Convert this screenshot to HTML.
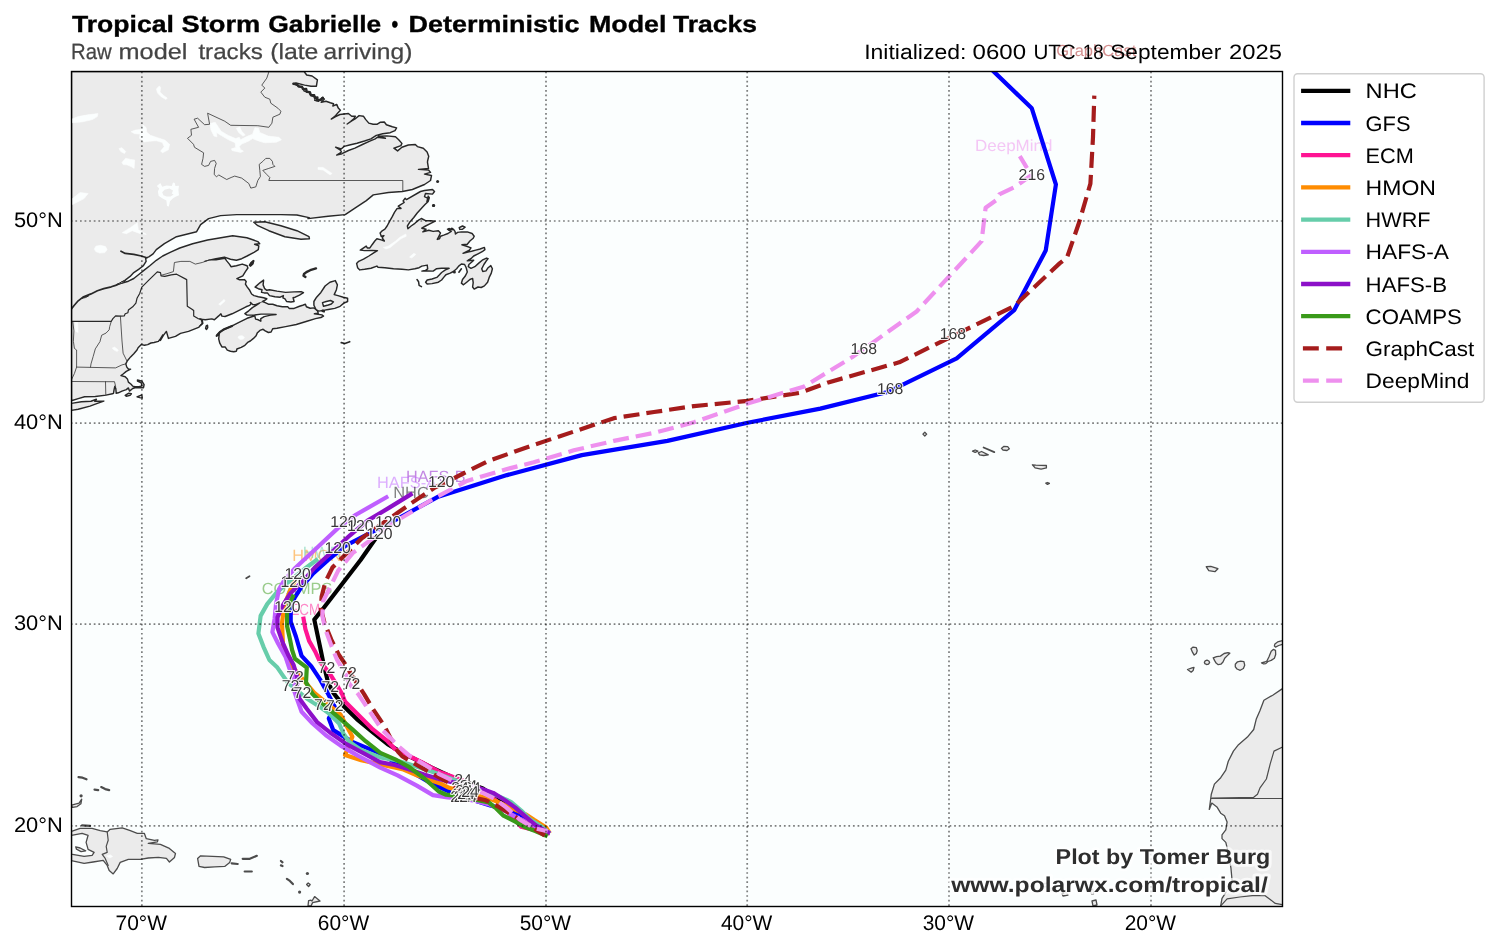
<!DOCTYPE html>
<html><head><meta charset="utf-8"><title>Tropical Storm Gabrielle - Deterministic Model Tracks</title>
<style>html,body{margin:0;padding:0;background:#fff;}body{width:1496px;height:946px;position:relative;overflow:hidden;font-family:"Liberation Sans",sans-serif;}</style>
</head><body>
<svg width="1496" height="946" viewBox="0 0 1496 946" style="position:absolute;left:0;top:0;will-change:transform;opacity:0.999" text-rendering="geometricPrecision">
<defs><clipPath id="fr"><rect x="71.5" y="71.5" width="1211.0" height="835.0"/></clipPath></defs>
<rect x="71.5" y="71.5" width="1211.0" height="835.0" fill="#fbfefe"/>
<g clip-path="url(#fr)">
<path d="M71.5,71.5 L304.1,71.5 L306.7,75.0 L312.1,76.0 L317.4,79.8 L316.4,86.2 L311.0,86.2 L304.6,85.1 L296.0,83.0 L293.4,83.7 L297.6,85.7 L302.5,87.3 L304.1,91.0 L308.9,92.1 L311.0,95.8 L315.3,96.9 L314.8,100.4 L318.5,101.2 L322.2,97.4 L324.4,99.0 L321.2,102.2 L326.0,101.2 L330.3,102.8 L333.5,103.8 L332.9,106.0 L336.7,104.4 L338.3,108.1 L340.4,110.3 L337.8,112.9 L335.1,116.2 L331.3,119.0 L335.6,116.7 L339.9,114.5 L344.2,114.0 L348.4,113.5 L351.7,116.2 L355.4,116.2 L353.8,118.8 L350.6,121.5 L347.2,124.0 L351.7,121.0 L355.9,118.3 L359.1,115.6 L363.4,116.2 L365.6,119.4 L368.8,123.1 L373.1,124.2 L377.3,124.2 L380.5,122.2 L384.3,122.0 L386.4,124.7 L392.3,126.8 L396.6,127.9 L395.0,130.6 L390.2,132.7 L382.7,133.8 L376.3,135.4 L370.9,138.9 L364.5,141.0 L357.0,143.2 L349.5,145.0 L344.2,146.4 L341.2,149.0 L335.6,147.2 L340.4,150.1 L341.5,152.0 L336.7,155.0 L342.0,153.7 L348.4,150.5 L354.9,148.1 L362.4,144.5 L369.8,141.1 L375.2,138.9 L377.3,137.2 L385.4,138.3 L378.4,136.2 L386.9,135.9 L395.5,136.8 L398.7,139.7 L401.9,143.4 L400.9,145.6 L393.9,148.2 L397.6,150.9 L401.9,147.2 L408.3,145.0 L415.3,144.5 L417.4,146.6 L423.3,148.2 L427.1,152.0 L428.7,156.3 L427.6,161.0 L427.5,162.4 L428.5,168.4 L418.5,169.4 L428.5,170.0 L430.5,172.4 L424.5,174.1 L431.5,175.5 L430.5,180.5 L424.5,184.5 L412.4,189.5 L402.4,191.5 L388.4,192.5 L373.3,194.9 L366.3,200.6 L354.2,208.6 L345.2,214.6 L328.1,216.2 L308.0,218.6 L309.0,217.6 L296.9,215.0 L280.9,214.6 L260.8,214.6 L236.7,214.6 L220.6,215.6 L208.6,218.6 L200.6,224.7 L196.6,231.7 L176.5,236.7 L164.4,243.7 L156.3,249.6 L153.1,253.9 L148.8,256.9 L145.6,258.2 L146.1,261.4 L143.4,265.7 L138.6,269.4 L133.8,272.6 L130.1,276.4 L125.2,280.1 L119.9,283.3 L117.2,284.4 L123.1,282.8 L128.4,281.2 L133.8,278.5 L139.1,274.2 L144.5,269.9 L149.8,265.7 L156.3,260.3 L162.7,256.0 L171.2,251.8 L179.8,248.0 L192.6,243.7 L207.6,240.0 L232.7,235.7 L246.8,237.7 L253.5,240.0 L257.8,241.6 L259.7,243.7 L254.6,244.3 L258.8,245.9 L258.3,249.6 L254.0,252.3 L247.1,256.0 L241.7,258.7 L236.4,260.3 L230.5,259.2 L224.4,257.1 L216.0,258.8 L210.2,259.9 L216.0,259.7 L224.8,258.2 L226.7,260.9 L229.4,264.1 L231.0,266.7 L236.4,265.7 L242.2,264.1 L247.1,265.7 L247.9,268.0 L245.4,271.6 L242.8,275.8 L236.9,278.7 L239.6,279.8 L244.4,279.6 L246.2,281.5 L245.4,284.1 L247.3,287.1 L249.7,290.3 L251.6,294.0 L254.0,295.6 L258.3,296.7 L263.6,297.8 L266.8,298.8 L264.7,300.4 L262.6,301.5 L265.2,302.6 L268.4,304.2 L272.7,304.2 L277.0,305.8 L282.4,306.8 L287.7,306.8 L289.3,308.4 L294.1,308.4 L299.5,306.3 L302.7,305.2 L305.4,304.2 L306.4,306.8 L310.2,308.2 L313.9,307.9 L316.0,309.5 L317.6,311.1 L318.2,313.3 L314.4,313.8 L321.9,314.9 L323.5,316.1 L320.9,317.5 L315.5,318.6 L306.9,321.3 L296.3,324.5 L285.6,326.6 L277.0,328.2 L272.7,328.8 L271.1,332.0 L268.4,332.5 L265.2,330.9 L263.1,329.3 L259.9,330.4 L257.2,333.1 L256.1,335.7 L253.5,338.4 L250.3,341.0 L248.1,342.1 L244.9,345.3 L241.2,347.4 L236.9,349.0 L236.4,351.2 L233.7,351.7 L230.5,351.2 L227.3,350.1 L225.1,346.9 L221.9,346.9 L219.8,343.2 L218.7,338.9 L219.2,334.4 L216.4,336.2 L219.2,332.7 L223.0,330.0 L232.1,325.8 L238.5,322.6 L247.1,318.3 L254.8,315.8 L255.6,319.1 L258.3,319.8 L260.8,321.2 L260.8,318.6 L264.2,316.6 L270.6,315.1 L276.1,314.5 L268.4,314.1 L261.0,314.1 L254.6,315.0 L247.1,315.1 L244.9,313.7 L248.7,310.8 L252.4,307.6 L256.1,305.4 L259.4,303.1 L255.6,304.7 L252.6,304.5 L250.3,302.4 L251.1,303.6 L249.7,305.4 L246.0,306.8 L239.6,310.1 L232.1,313.8 L225.1,316.5 L221.9,316.1 L220.9,313.8 L218.7,315.9 L214.4,319.7 L211.8,318.9 L205.3,319.7 L200.0,319.1 L202.2,320.0 L202.8,323.4 L200.3,325.6 L198.6,327.4 L188.5,331.4 L180.5,333.4 L175.5,336.4 L168.4,338.4 L166.4,331.4 L163.4,335.4 L160.4,340.4 L162.7,335.0 L160.5,338.7 L158.4,341.4 L154.1,342.5 L150.9,343.0 L147.7,344.6 L144.5,345.2 L141.3,344.6 L138.1,347.8 L137.0,350.0 L133.8,353.7 L130.6,356.9 L127.4,360.7 L125.8,363.9 L126.8,367.1 L128.4,369.0 L130.6,369.2 L126.3,371.4 L123.1,374.0 L121.0,375.6 L125.2,376.7 L127.4,378.9 L128.4,382.1 L131.1,384.2 L132.7,386.1 L134.9,386.7 L139.1,386.7 L141.9,385.9 L141.3,382.9 L137.5,381.1 L137.5,380.0 L141.9,381.1 L144.1,384.7 L143.5,387.7 L139.1,387.7 L134.9,387.7 L132.7,388.5 L129.5,391.1 L128.4,387.9 L126.3,389.6 L122.0,391.1 L118.3,392.8 L116.2,393.3 L115.8,388.5 L114.8,386.3 L114.1,389.6 L113.5,393.3 L112.4,393.8 L106.0,395.1 L95.3,396.5 L84.6,396.8 L78.2,398.6 L71.4,400.8 L71.5,400.8Z" fill="#ebebeb" stroke="#282828" stroke-width="1.45" stroke-linejoin="round" />
<path d="M432.5,189.5 L434.5,191.5 L432.5,194.1 L425.5,193.5 L424.5,196.6 L428.5,198.6 L426.9,201.6 L428.2,196.1 L429.3,197.7 L428.2,201.4 L425.0,204.6 L421.3,208.4 L417.0,213.2 L413.8,217.5 L410.1,221.7 L407.4,226.0 L407.9,228.7 L411.1,226.0 L414.9,223.3 L418.6,220.1 L421.3,218.5 L425.6,220.7 L430.9,220.7 L435.2,221.2 L429.8,223.9 L425.6,226.0 L421.8,228.2 L426.1,229.2 L422.9,231.9 L428.8,230.3 L433.1,231.4 L438.4,230.8 L440.5,233.0 L438.9,236.2 L437.3,239.4 L439.5,238.8 L440.5,236.2 L443.7,235.1 L448.0,233.5 L451.2,231.4 L447.5,229.2 L453.4,229.2 L455.0,231.4 L455.5,234.0 L457.6,232.4 L461.4,231.9 L467.3,231.9 L472.1,233.5 L474.2,236.2 L473.2,238.3 L469.9,241.0 L467.3,244.2 L461.9,244.7 L466.7,246.3 L471.0,247.9 L469.4,250.1 L463.0,253.3 L468.9,251.7 L471.6,251.2 L475.8,250.1 L480.1,249.0 L484.4,247.4 L484.9,249.6 L482.2,251.7 L478.0,253.8 L473.7,256.0 L471.6,258.1 L467.3,260.8 L473.7,260.2 L472.1,261.8 L468.9,264.5 L468.3,266.7 L471.0,268.3 L474.8,266.7 L478.5,263.4 L482.2,260.2 L486.5,258.1 L488.1,258.6 L486.0,261.3 L483.9,264.5 L481.7,268.8 L482.8,271.5 L486.0,270.9 L488.1,267.7 L490.8,265.6 L492.4,268.8 L491.3,273.1 L489.2,277.4 L487.6,282.2 L484.4,285.9 L481.2,287.5 L478.0,287.0 L474.2,289.1 L472.6,287.0 L473.2,282.7 L472.6,278.4 L469.9,279.5 L466.7,282.2 L463.5,284.8 L461.4,283.2 L462.5,279.5 L465.1,276.3 L467.3,272.0 L466.2,267.7 L464.6,264.5 L461.4,264.0 L458.7,266.1 L456.6,268.8 L453.4,271.5 L450.2,273.1 L445.9,274.7 L443.7,277.4 L441.6,280.0 L438.4,282.2 L432.0,283.6 L427.2,284.0 L425.6,282.2 L427.2,280.0 L432.0,279.0 L436.8,277.4 L439.5,274.7 L441.6,272.5 L445.4,269.9 L449.1,268.3 L441.6,268.3 L436.3,268.8 L433.1,271.1 L427.7,270.9 L421.8,271.1 L425.6,270.4 L427.7,268.8 L427.2,265.1 L421.8,266.1 L419.1,267.7 L414.9,268.8 L408.4,269.9 L402.0,269.3 L393.5,268.8 L384.9,267.7 L378.0,267.2 L376.9,266.1 L371.0,268.3 L364.6,269.3 L359.8,269.9 L357.6,267.7 L356.6,263.4 L358.7,261.3 L363.5,259.2 L368.9,256.0 L373.7,252.8 L377.4,250.6 L372.1,250.4 L364.6,250.6 L360.3,250.1 L366.2,246.1 L367.3,247.9 L369.9,247.9 L372.1,244.7 L374.8,241.0 L376.9,238.8 L381.2,239.9 L384.4,241.0 L382.2,237.8 L383.9,235.6 L381.2,236.2 L380.1,233.0 L382.2,230.8 L384.9,229.2 L387.1,226.0 L389.7,221.2 L392.4,216.4 L394.6,212.1 L397.2,208.4 L401.0,208.4 L398.3,206.2 L401.5,204.1 L404.2,202.5 L403.1,200.9 L405.2,198.2 L406.4,199.6 L420.5,191.5 L424.5,190.5Z" fill="#ebebeb" stroke="#282828" stroke-width="1.45" stroke-linejoin="round" />
<path d="M253.8,222.2 L264.8,221.7 L280.9,225.7 L296.9,230.7 L309.0,236.7 L309.4,238.7 L301.0,239.3 L284.9,236.7 L268.8,230.7 L257.8,225.7Z" fill="#ebebeb" stroke="#282828" stroke-width="1.45" stroke-linejoin="round" />
<path d="M255.1,287.1 L259.9,282.8 L263.6,280.1 L263.1,284.9 L264.7,288.7 L266.8,290.3 L269.5,289.7 L277.0,291.1 L285.6,292.4 L294.1,291.9 L301.1,291.6 L303.5,292.6 L299.5,295.1 L295.2,297.2 L293.1,297.8 L294.1,301.5 L290.9,302.0 L286.6,301.5 L285.0,298.8 L282.9,297.8 L283.4,295.6 L280.2,297.2 L274.9,296.7 L269.5,295.6 L267.4,292.9 L264.2,292.9 L261.5,292.4 L262.0,289.7 L258.3,288.7Z" fill="#ebebeb" stroke="#282828" stroke-width="1.45" stroke-linejoin="round" />
<path d="M316.0,309.5 L313.9,305.2 L313.9,301.5 L316.6,297.2 L320.9,292.4 L325.1,286.0 L329.9,282.2 L335.3,280.6 L337.4,284.9 L336.4,289.7 L334.2,294.6 L338.0,295.6 L343.3,297.2 L347.6,298.3 L347.6,301.5 L343.9,303.1 L340.1,306.3 L334.8,308.4 L328.3,309.5 L324.6,310.1 L324.1,311.9 L321.9,310.6 L318.7,311.1Z" fill="#ebebeb" stroke="#282828" stroke-width="1.45" stroke-linejoin="round" />
<path d="M71.4,403.4 L81.4,401.8 L91.0,401.3 L96.4,399.2 L94.8,401.3 L103.8,401.1 L97.4,403.4 L90.0,406.1 L78.2,409.3 L71.4,410.4Z" fill="#ebebeb" stroke="#282828" stroke-width="1.45" stroke-linejoin="round" />
<path d="M125.2,395.4 L128.4,393.3 L131.4,393.8 L130.1,395.4 L126.3,396.2Z" fill="#ebebeb" stroke="#282828" stroke-width="1.45" stroke-linejoin="round" />
<path d="M137.0,396.8 L141.8,394.9 L142.3,398.1 L139.7,397.6Z" fill="#ebebeb" stroke="#282828" stroke-width="1.45" stroke-linejoin="round" />
<path d="M205.6,328.4 L206.2,325.8 L207.5,325.2 L207.7,327.6 L206.6,329.5Z" fill="#ebebeb" stroke="#282828" stroke-width="1.45" stroke-linejoin="round" />
<path d="M459.2,227.6 L462.5,226.0 L465.1,227.1 L462.5,229.2 L459.8,229.4Z" fill="#ebebeb" stroke="#282828" stroke-width="1.45" stroke-linejoin="round" />
<path d="M249.7,265.2 L251.3,262.7 L253.5,260.9 L252.6,263.7 L250.5,265.7Z" fill="#ebebeb" stroke="#282828" stroke-width="1.45" stroke-linejoin="round" />
<path d="M71.5,831.3 L80.1,828.3 L92.1,828.3 L100.2,830.7 L107.2,831.9 L110.2,829.3 L122.2,827.9 L130.3,830.7 L137.3,833.3 L144.3,833.3 L146.3,838.7 L154.4,840.3 L158.0,839.9 L157.4,841.9 L148.3,843.4 L160.4,844.4 L169.4,848.4 L175.5,853.4 L174.5,857.4 L169.4,862.0 L166.4,858.4 L158.4,857.4 L148.3,858.0 L140.3,859.4 L128.3,859.4 L120.2,862.4 L117.2,868.5 L113.2,873.9 L109.2,870.5 L107.2,865.4 L103.2,860.4 L93.1,862.0 L84.1,863.4 L72.5,860.8 L71.5,860.8Z" fill="#ebebeb" stroke="#4c4c4c" stroke-width="1.3" stroke-linejoin="round" />
<path d="M197.6,858.4 L200.6,855.8 L212.6,856.4 L223.7,856.8 L230.7,859.4 L229.7,862.4 L224.7,866.4 L214.6,866.8 L204.6,867.5 L199.0,866.4Z" fill="#ebebeb" stroke="#4c4c4c" stroke-width="1.3" stroke-linejoin="round" />
<path d="M306.6,884.5 L308.2,882.9 L310.2,884.5 L308.6,886.5Z" fill="#ebebeb" stroke="#4c4c4c" stroke-width="1.3" stroke-linejoin="round" />
<path d="M308.0,906.0 L308.6,900.6 L311.0,900.2 L312.0,901.0 L314.6,896.6 L320.0,901.0 L312.6,902.6 L311.0,906.0Z" fill="#ebebeb" stroke="#4c4c4c" stroke-width="1.3" stroke-linejoin="round" />
<path d="M71.5,805.2 L79.1,803.2 L81.7,799.2 L80.9,803.8 L77.1,806.6 L72.5,807.4Z" fill="#ebebeb" stroke="#4c4c4c" stroke-width="1.3" stroke-linejoin="round" />
<path d="M1206.2,566.7 L1210.8,566.3 L1217.9,568.7 L1214.9,571.7 L1208.8,570.7Z" fill="#ebebeb" stroke="#4c4c4c" stroke-width="1.3" stroke-linejoin="round" />
<path d="M1045.8,483.2 L1047.5,482.5 L1049.4,483.4 L1047.5,484.4Z" fill="#ebebeb" stroke="#4c4c4c" stroke-width="1.3" stroke-linejoin="round" />
<path d="M922.9,434.1 L924.8,432.2 L926.7,434.1 L924.8,436.0Z" fill="#ebebeb" stroke="#4c4c4c" stroke-width="1.3" stroke-linejoin="round" />
<path d="M972.5,451.2 L975.2,450.0 L977.9,451.2 L975.2,452.4Z" fill="#ebebeb" stroke="#4c4c4c" stroke-width="1.3" stroke-linejoin="round" />
<path d="M978.3,452.8 L981.6,451.5 L988.3,454.8 L983.6,455.5 L979.6,454.8Z" fill="#ebebeb" stroke="#4c4c4c" stroke-width="1.3" stroke-linejoin="round" />
<path d="M1001.4,448.4 L1003.7,446.4 L1007.7,446.7 L1009.4,448.8 L1007.0,450.5 L1003.0,450.0Z" fill="#ebebeb" stroke="#4c4c4c" stroke-width="1.3" stroke-linejoin="round" />
<path d="M1032.4,464.8 L1035.8,465.2 L1046.4,465.5 L1046.4,467.9 L1041.1,469.1 L1035.1,467.9Z" fill="#ebebeb" stroke="#4c4c4c" stroke-width="1.3" stroke-linejoin="round" />
<path d="M1191.0,648.7 L1193.1,647.1 L1196.3,647.6 L1197.2,650.8 L1196.3,653.5 L1194.2,655.1 L1192.6,652.4Z" fill="#ebebeb" stroke="#4c4c4c" stroke-width="1.3" stroke-linejoin="round" />
<path d="M1187.5,669.5 L1192.0,667.9 L1194.0,667.4 L1193.1,670.6 L1191.2,672.2Z" fill="#ebebeb" stroke="#4c4c4c" stroke-width="1.3" stroke-linejoin="round" />
<path d="M1204.4,662.4 L1205.2,660.8 L1207.0,660.2 L1208.9,661.0 L1209.6,662.6 L1208.5,664.2 L1206.5,664.5 L1204.9,663.7Z" fill="#ebebeb" stroke="#4c4c4c" stroke-width="1.3" stroke-linejoin="round" />
<path d="M1213.2,657.8 L1216.6,656.7 L1220.4,656.1 L1224.1,653.5 L1227.9,652.6 L1229.8,653.2 L1227.3,655.6 L1224.7,658.3 L1223.0,662.0 L1220.9,664.2 L1218.2,664.7 L1216.1,663.1 L1214.5,660.4Z" fill="#ebebeb" stroke="#4c4c4c" stroke-width="1.3" stroke-linejoin="round" />
<path d="M1235.3,664.2 L1237.5,661.8 L1240.7,661.2 L1243.9,661.7 L1244.7,665.2 L1243.4,668.5 L1240.2,670.3 L1237.0,669.0 L1235.3,666.8Z" fill="#ebebeb" stroke="#4c4c4c" stroke-width="1.3" stroke-linejoin="round" />
<path d="M1261.5,662.8 L1264.8,662.0 L1266.9,661.0 L1269.0,656.7 L1271.2,651.3 L1273.3,649.4 L1275.5,650.3 L1275.7,654.5 L1274.4,658.3 L1271.2,660.4 L1268.0,661.5 L1265.8,663.6 L1263.7,663.9Z" fill="#ebebeb" stroke="#4c4c4c" stroke-width="1.3" stroke-linejoin="round" />
<path d="M1274.9,643.9 L1277.6,641.9 L1282.4,640.6 L1284.0,640.6 L1284.0,644.4 L1282.4,644.4 L1278.7,645.5 L1275.5,647.1 L1274.4,646.0Z" fill="#ebebeb" stroke="#4c4c4c" stroke-width="1.3" stroke-linejoin="round" />
<path d="M1062.0,893.5 L1066.0,892.5 L1068.0,895.0 L1063.0,896.0Z" fill="#ebebeb" stroke="#4c4c4c" stroke-width="1.3" stroke-linejoin="round" />
<path d="M1091.0,890.0 L1093.0,889.5 L1093.5,894.0 L1091.5,894.0Z" fill="#ebebeb" stroke="#4c4c4c" stroke-width="1.3" stroke-linejoin="round" />
<path d="M1092.0,901.0 L1096.0,900.0 L1097.0,905.0 L1093.0,906.0Z" fill="#ebebeb" stroke="#4c4c4c" stroke-width="1.3" stroke-linejoin="round" />
<path d="M1043.0,884.0 L1048.0,883.0 L1049.0,886.0 L1044.0,887.0Z" fill="#ebebeb" stroke="#4c4c4c" stroke-width="1.3" stroke-linejoin="round" />
<path d="M1050.0,888.5 L1053.0,888.0 L1053.0,890.5 L1050.5,890.5Z" fill="#ebebeb" stroke="#4c4c4c" stroke-width="1.3" stroke-linejoin="round" />
<path d="M1285.5,688.9 L1282.1,688.9 L1272.7,695.2 L1263.9,700.3 L1260.0,710.5 L1256.2,719.3 L1253.7,729.5 L1247.4,737.1 L1238.5,744.7 L1233.4,751.1 L1228.3,761.2 L1225.8,770.1 L1220.7,777.7 L1214.4,784.1 L1211.3,794.2 L1210.3,801.8 L1209.3,809.4 L1211.8,803.1 L1216.9,806.9 L1220.7,813.2 L1224.5,815.8 L1227.1,822.1 L1225.8,829.8 L1222.0,834.8 L1222.0,838.6 L1225.8,842.4 L1228.3,852.6 L1230.9,867.8 L1232.1,880.5 L1227.1,890.7 L1222.0,898.3 L1220.7,905.9 L1220.7,908.4 L1285.5,909.5Z" fill="#ebebeb" stroke="#4c4c4c" stroke-width="1.3" stroke-linejoin="round" />
<path d="M322.5,302.6 L326.2,301.5 L330.5,300.5 L333.5,301.8 L331.3,304.0 L328.3,305.0 L323.5,306.3 L323.0,304.5Z" fill="#fbfefe" stroke="#282828" stroke-width="1.45" stroke-linejoin="round" />
<path d="M71.5,835.3 L82.1,833.3 L88.1,835.3 L86.1,842.4 L88.1,849.4 L94.1,852.4 L92.1,855.4 L84.1,856.4 L72.5,854.4 L71.5,854.4Z" fill="#fbfefe" stroke="#4c4c4c" stroke-width="1.3" stroke-linejoin="round" />
<path d="M75.7,846.8 L80.1,848.0 L85.7,850.8 L81.1,851.6 L76.5,849.2Z" fill="#ebebeb" stroke="#4c4c4c" stroke-width="1.3" stroke-linejoin="round" />
<path d="M118.3,283.9 L121.5,281.9 L125.5,280.6 L123.1,282.6 L119.4,284.1Z" fill="#ebebeb" stroke="#282828" stroke-width="1.0" stroke-linejoin="round" />
<path d="M81.9,298.3 L85.1,296.5 L88.7,295.8 L85.7,297.5Z" fill="#ebebeb" stroke="#282828" stroke-width="1.0" stroke-linejoin="round" />
<path d="M118.3,284.2 L115.6,285.4 L111.3,286.8 L103.8,288.6 L97.4,290.7 L91.0,293.9 L83.0,297.1 L78.2,300.8 L73.9,305.7 L71.4,309.0" fill="none" stroke="#282828" stroke-width="1.7" stroke-linejoin="round" stroke-linecap="round" />
<path d="M121.0,251.2 L125.2,253.4 L133.8,254.4 L141.3,256.0 L146.8,257.8" fill="none" stroke="#282828" stroke-width="1.7" stroke-linejoin="round" stroke-linecap="round" />
<path d="M293.4,83.7 L297.1,84.4 L298.7,86.5 L301.9,86.7 L303.0,89.1 L306.2,88.9 L306.7,91.7 L309.9,92.1 L310.8,94.9 L314.2,95.3 L314.8,97.7 L317.4,97.4 L316.9,100.1 L321.2,99.8 L322.8,97.7" fill="none" stroke="#282828" stroke-width="2.4" stroke-linejoin="round" stroke-linecap="round" />
<path d="M305.4,276.9 L303.5,275.8 L304.0,274.0 L306.4,272.1 L310.2,270.2 L316.0,268.4" fill="none" stroke="#282828" stroke-width="2.4" stroke-linejoin="round" stroke-linecap="round" />
<path d="M216.8,335.5 L219.8,332.2 L223.5,329.6 L232.1,325.9" fill="none" stroke="#282828" stroke-width="2.2" stroke-linejoin="round" stroke-linecap="round" />
<path d="M249.7,265.2 L251.3,262.7 L253.5,260.9 L252.6,263.7 L250.5,265.7" fill="none" stroke="#282828" stroke-width="2.0" stroke-linejoin="round" stroke-linecap="round" />
<path d="M341.2,342.6 L344.9,343.5 L349.7,341.7" fill="none" stroke="#282828" stroke-width="1.6" stroke-linejoin="round" stroke-linecap="round" />
<path d="M417.0,279.5 L418.6,281.8 L419.1,285.4 L421.5,286.6" fill="none" stroke="#282828" stroke-width="1.5" stroke-linejoin="round" stroke-linecap="round" />
<path d="M983.6,447.5 L994.3,452.1" fill="none" stroke="#4c4c4c" stroke-width="1.8" stroke-linejoin="round" stroke-linecap="round" />
<path d="M458.9,272.2 L461.4,268.8" fill="none" stroke="#282828" stroke-width="1.6" stroke-linejoin="round" stroke-linecap="round" />
<path d="M246.2,578.3 L249.5,576.2" fill="none" stroke="#4c4c4c" stroke-width="1.8" stroke-linejoin="round" stroke-linecap="round" />
<path d="M231.7,863.4 L237.7,864.0" fill="none" stroke="#4c4c4c" stroke-width="2.2" stroke-linejoin="round" stroke-linecap="round" />
<path d="M242.7,858.8 L249.8,858.8 L256.8,855.8" fill="none" stroke="#4c4c4c" stroke-width="2.2" stroke-linejoin="round" stroke-linecap="round" />
<path d="M244.7,871.5 L251.8,871.5" fill="none" stroke="#4c4c4c" stroke-width="2.2" stroke-linejoin="round" stroke-linecap="round" />
<path d="M280.9,861.0 L282.5,862.4" fill="none" stroke="#4c4c4c" stroke-width="2.2" stroke-linejoin="round" stroke-linecap="round" />
<path d="M280.9,865.4 L282.5,866.0" fill="none" stroke="#4c4c4c" stroke-width="2.2" stroke-linejoin="round" stroke-linecap="round" />
<path d="M286.9,878.9 L289.9,880.9 L292.9,884.1" fill="none" stroke="#4c4c4c" stroke-width="2.2" stroke-linejoin="round" stroke-linecap="round" />
<path d="M78.5,777.1 L82.5,777.7 L86.5,779.3" fill="none" stroke="#4c4c4c" stroke-width="2.2" stroke-linejoin="round" stroke-linecap="round" />
<path d="M94.5,789.7 L98.2,790.1" fill="none" stroke="#4c4c4c" stroke-width="2.2" stroke-linejoin="round" stroke-linecap="round" />
<path d="M101.2,787.1 L105.2,789.1 L109.2,790.1" fill="none" stroke="#4c4c4c" stroke-width="2.2" stroke-linejoin="round" stroke-linecap="round" />
<path d="M82.1,825.3 L90.1,825.9" fill="none" stroke="#4c4c4c" stroke-width="2.2" stroke-linejoin="round" stroke-linecap="round" />
<circle cx="437.6" cy="181.5" r="1.5" fill="#282828"/>
<circle cx="433.5" cy="205.6" r="1.5" fill="#282828"/>
<circle cx="433.6" cy="205.5" r="1.5" fill="#282828"/>
<circle cx="449.1" cy="229.2" r="1.5" fill="#282828"/>
<circle cx="451.8" cy="229.0" r="1.5" fill="#282828"/>
<circle cx="454.4" cy="272.0" r="1.5" fill="#282828"/>
<circle cx="323.0" cy="310.8" r="1.5" fill="#282828"/>
<circle cx="307.4" cy="873.5" r="1.6" fill="#4c4c4c"/>
<circle cx="299.6" cy="892.1" r="1.6" fill="#4c4c4c"/>
<circle cx="81.1" cy="795.8" r="1.6" fill="#4c4c4c"/>
<path d="M72.0,119.0 L78.1,116.6 L87.7,114.8 L98.0,113.6 L97.3,116.6 L92.5,119.6 L81.7,122.0 L72.0,122.7Z" fill="#fbfefe" stroke="#fbfefe" stroke-width="0.6" stroke-linejoin="round"/>
<path d="M156.4,88.9 L159.4,85.9 L160.6,87.7 L160.0,91.9 L163.6,95.5 L167.2,98.0 L166.0,99.5 L161.2,96.8 L157.6,93.1Z" fill="#fbfefe" stroke="#fbfefe" stroke-width="0.6" stroke-linejoin="round"/>
<path d="M131.1,131.7 L135.3,130.1 L140.7,129.6 L143.1,125.1 L146.1,127.5 L146.8,132.3 L150.4,135.3 L157.6,137.7 L164.8,140.1 L169.6,144.3 L168.4,149.8 L162.4,152.8 L160.6,151.0 L164.2,146.8 L162.4,142.5 L156.4,140.7 L149.2,141.3 L144.3,141.9 L139.5,138.3 L140.1,134.1 L134.7,133.7Z" fill="#fbfefe" stroke="#fbfefe" stroke-width="0.6" stroke-linejoin="round"/>
<path d="M119.0,148.6 L122.0,147.7 L125.7,151.6 L124.5,153.4 L120.8,151.6Z" fill="#fbfefe" stroke="#fbfefe" stroke-width="0.6" stroke-linejoin="round"/>
<path d="M122.0,162.4 L125.7,158.2 L130.5,159.4 L134.7,160.0 L134.1,168.4 L131.1,166.6 L126.9,164.8 L123.2,164.6Z" fill="#fbfefe" stroke="#fbfefe" stroke-width="0.6" stroke-linejoin="round"/>
<path d="M72.5,198.6 L80.1,192.5 L88.1,193.5 L84.1,198.6 L72.5,204.6Z" fill="#fbfefe" stroke="#fbfefe" stroke-width="0.6" stroke-linejoin="round"/>
<path d="M122.2,232.7 L130.3,227.7 L137.3,222.7 L138.3,229.7 L146.3,234.3 L140.3,233.7 L132.3,230.7 L126.3,233.7Z" fill="#fbfefe" stroke="#fbfefe" stroke-width="0.6" stroke-linejoin="round"/>
<path d="M318.0,167.4 L323.1,167.4 L332.1,173.4 L330.1,174.9 L323.1,170.0 L318.0,169.4Z" fill="#fbfefe" stroke="#fbfefe" stroke-width="0.6" stroke-linejoin="round"/>
<path d="M209.8,123.5 L215.2,122.3 L217.6,125.9 L221.2,131.3 L228.4,135.5 L235.7,138.6 L239.3,137.3 L240.5,139.8 L247.7,136.1 L252.5,134.3 L254.9,127.7 L258.6,128.3 L259.8,132.5 L268.2,136.1 L279.0,137.3 L281.4,139.8 L276.6,142.2 L264.6,142.8 L258.6,141.0 L252.5,138.6 L248.9,141.0 L241.7,144.0 L239.3,146.4 L240.5,149.4 L243.5,151.2 L240.5,152.4 L232.1,150.6 L231.4,148.8 L235.7,147.6 L235.1,142.8 L228.4,139.8 L221.2,135.5 L216.4,132.5 L217.0,136.8 L214.0,136.1 L211.0,130.1Z" fill="#fbfefe" stroke="#fbfefe" stroke-width="0.6" stroke-linejoin="round"/>
<path d="M236.3,128.3 L239.9,127.1 L241.7,131.3 L245.3,134.9 L242.9,136.1 L238.7,132.5Z" fill="#fbfefe" stroke="#fbfefe" stroke-width="0.6" stroke-linejoin="round"/>
<path d="M94.4,249.1 L95.8,246.2 L100.6,245.3 L105.5,246.6 L107.1,249.6 L104.9,252.6 L99.6,253.1 L95.8,251.6Z" fill="#fbfefe" stroke="#fbfefe" stroke-width="0.6" stroke-linejoin="round"/>
<path d="M218.7,304.2 L224.1,299.4 L225.1,301.0 L220.3,305.2Z" fill="#fbfefe" stroke="#fbfefe" stroke-width="0.6" stroke-linejoin="round"/>
<path d="M238.0,337.6 L239.0,336.0 L242.2,335.7 L244.4,337.3 L243.3,339.1 L240.1,339.6Z" fill="#fbfefe" stroke="#fbfefe" stroke-width="0.6" stroke-linejoin="round"/>
<path d="M383.3,247.4 L388.1,246.3 L395.6,241.0 L399.9,237.2 L405.8,234.0 L406.3,236.2 L401.0,238.8 L395.6,243.1 L390.3,247.4 L386.0,249.0Z" fill="#fbfefe" stroke="#fbfefe" stroke-width="0.6" stroke-linejoin="round"/>
<path d="M409.5,257.0 L413.8,253.3 L415.9,254.4 L411.7,258.1Z" fill="#fbfefe" stroke="#fbfefe" stroke-width="0.6" stroke-linejoin="round"/>
<path d="M112.2,348.1 L114.5,347.0 L118.3,350.0 L117.2,351.6 L114.0,350.0Z" fill="#fbfefe" stroke="#fbfefe" stroke-width="0.6" stroke-linejoin="round"/>
<path d="M75.1,322.3 L77.7,322.3 L78.1,332.4 L75.7,331.4Z" fill="#fbfefe" stroke="#fbfefe" stroke-width="0.6" stroke-linejoin="round"/>
<path d="M106.6,856.0 L110.2,854.8 L112.6,856.4 L109.8,858.0Z" fill="#fbfefe" stroke="#fbfefe" stroke-width="0.6" stroke-linejoin="round"/>
<path d="M156.8,186.1 L160.4,183.1 L162.2,186.8 L166.4,185.5 L171.8,186.1 L173.0,182.5 L174.8,183.1 L175.4,186.1 L179.0,185.8 L178.4,189.8 L179.0,195.2 L176.0,196.4 L173.0,198.2 L170.0,201.2 L168.8,206.6 L167.0,206.0 L166.4,200.6 L162.2,198.2 L158.6,195.8 L157.9,191.6 L159.2,188.6Z M162.2,192.2 L164.6,189.8 L169.4,188.6 L173.0,190.4 L171.8,193.4 L173.6,194.6 L170.6,196.4 L166.4,196.4 L163.4,195.2Z" fill="#fbfefe" fill-rule="evenodd"/>
<path d="M71.4,321.3 L111.3,321.3 L112.9,318.6 L115.6,315.9 L120.4,316.1 L124.2,315.9 L125.2,313.8 L127.9,312.7 L128.4,310.1 L132.7,306.8 L135.9,303.1 L137.0,298.3 L139.7,293.5 L141.8,287.1 L148.8,280.1 L157.3,271.9 L160.5,272.6 L161.1,275.8 L164.8,276.4 L171.2,274.8 L176.6,274.2 L186.7,279.6 L187.3,306.3 L191.6,309.0 L193.7,310.6 L193.7,315.9 L198.0,318.6 L201.2,319.1 L202.2,323.4 L200.1,325.6" fill="none" stroke="#282828" stroke-width="1.2" stroke-linejoin="round" stroke-linecap="round" />
<path d="M268.8,72.0 L266.8,78.1 L261.8,85.1 L264.8,88.1 L260.8,92.1 L264.8,97.2 L269.8,99.2 L270.8,103.2 L277.9,108.2 L280.9,111.2 L279.9,114.2 L272.9,117.2 L271.9,123.2 L268.8,127.3 L257.8,125.7 L230.7,125.3 L224.7,121.2 L207.6,113.2 L209.6,124.3 L204.6,124.7 L197.6,118.2 L194.1,119.2 L198.6,127.3 L190.9,129.3 L191.5,135.3 L187.5,138.3 L193.5,144.3 L194.5,147.3 L203.6,152.8 L203.0,158.4 L201.6,164.4 L204.6,166.4 L208.6,165.4 L210.6,161.4 L214.6,160.4 L216.2,163.4 L214.6,168.4 L214.2,174.5 L216.6,176.9 L218.6,174.9 L226.7,179.5 L231.1,177.5 L234.7,176.1 L241.7,178.1 L248.8,183.5 L250.8,188.1 L255.8,186.9 L257.8,180.5 L260.4,176.5 L259.8,170.4 L259.2,164.4 L262.8,161.4 L265.8,158.4 L269.8,158.4 L272.4,161.4 L272.9,164.4 L274.9,166.4 L268.8,168.4 L262.8,170.4 L266.8,174.5 L269.8,177.5 L268.8,180.5 L402.8,180.5 L402.8,191.5" fill="none" stroke="#333333" stroke-width="0.8" stroke-linejoin="round" stroke-linecap="round" />
<path d="M161.1,275.3 L166.9,273.7 L173.4,271.6 L174.4,262.5 L180.9,261.4 L189.9,261.4 L195.3,264.1 L202.2,262.5 L209.7,259.8 L204.3,261.4 L210.2,259.9" fill="none" stroke="#333333" stroke-width="0.8" stroke-linejoin="round" stroke-linecap="round" />
<path d="M120.4,316.1 L122.0,341.0 L123.1,353.2 L126.8,360.7" fill="none" stroke="#333333" stroke-width="0.8" stroke-linejoin="round" stroke-linecap="round" />
<path d="M111.3,321.3 L109.7,326.6 L109.2,329.8 L106.0,333.1 L101.7,335.2 L100.1,341.0 L100.1,341.4 L95.3,348.9 L93.2,356.4 L91.0,363.9 L90.5,367.1" fill="none" stroke="#333333" stroke-width="0.8" stroke-linejoin="round" stroke-linecap="round" />
<path d="M72.8,321.8 L73.9,330.9 L73.4,341.0 L73.4,341.4 L74.4,348.4 L76.6,350.0 L76.6,367.1 L74.4,373.5 L71.4,379.9" fill="none" stroke="#333333" stroke-width="0.8" stroke-linejoin="round" stroke-linecap="round" />
<path d="M76.6,367.1 L115.6,367.9 L122.0,364.9 L125.8,363.9" fill="none" stroke="#333333" stroke-width="0.8" stroke-linejoin="round" stroke-linecap="round" />
<path d="M71.4,381.5 L104.9,381.7 L114.5,381.7 L115.6,386.3" fill="none" stroke="#333333" stroke-width="0.8" stroke-linejoin="round" stroke-linecap="round" />
<path d="M105.5,381.7 L105.8,394.9" fill="none" stroke="#333333" stroke-width="0.8" stroke-linejoin="round" stroke-linecap="round" />
<path d="M259.4,303.1 L264.2,300.8" fill="none" stroke="#333333" stroke-width="0.8" stroke-linejoin="round" stroke-linecap="round" />
<path d="M107.2,831.9 L108.2,840.3 L106.2,846.4 L107.2,852.4 L102.2,854.4 L105.2,858.4 L108.2,865.4" fill="none" stroke="#4c4c4c" stroke-width="1.2" stroke-linejoin="round" stroke-linecap="round" />
<path d="M1282.1,747.3 L1274.0,751.1 L1270.2,763.8 L1266.4,779.0 L1260.0,787.9 L1257.5,794.2 L1253.7,797.3 L1211.8,798.0" fill="none" stroke="#4c4c4c" stroke-width="1.2" stroke-linejoin="round" stroke-linecap="round" />
<path d="M1211.3,798.5 L1282.1,798.5" fill="none" stroke="#4c4c4c" stroke-width="1.2" stroke-linejoin="round" stroke-linecap="round" />
<path d="M1220.7,905.9 L1227.1,898.8 L1239.8,897.0 L1252.4,895.7 L1265.1,895.7 L1270.2,899.5 L1275.3,903.4 L1282.1,904.6" fill="none" stroke="#4c4c4c" stroke-width="1.2" stroke-linejoin="round" stroke-linecap="round" />
</g>
<text x="1096.3" y="56.1" text-anchor="middle" fill="#a51c1c" fill-opacity="0.5" style="font-family:'Liberation Sans',sans-serif;font-size:16.2px" textLength="80" lengthAdjust="spacingAndGlyphs">GraphCast</text>
<text x="1013.7" y="150.79999999999998" text-anchor="middle" fill="#ee90ee" fill-opacity="0.5" style="font-family:'Liberation Sans',sans-serif;font-size:16.2px" textLength="77.3" lengthAdjust="spacingAndGlyphs">DeepMind</text>
<text x="435.8" y="482.2" text-anchor="middle" fill="#8c10c8" fill-opacity="0.5" style="font-family:'Liberation Sans',sans-serif;font-size:16.2px" textLength="59.6" lengthAdjust="spacingAndGlyphs">HAFS-B</text>
<text x="407" y="487.59999999999997" text-anchor="middle" fill="#bf5fff" fill-opacity="0.5" style="font-family:'Liberation Sans',sans-serif;font-size:16.2px" textLength="60" lengthAdjust="spacingAndGlyphs">HAFS-A</text>
<text x="411" y="497.5" text-anchor="middle" fill="#000000" fill-opacity="0.5" style="font-family:'Liberation Sans',sans-serif;font-size:16.2px" textLength="35.6" lengthAdjust="spacingAndGlyphs">NHC</text>
<text x="317" y="560.5" text-anchor="middle" fill="#ff8c00" fill-opacity="0.5" style="font-family:'Liberation Sans',sans-serif;font-size:16.2px" textLength="49.6" lengthAdjust="spacingAndGlyphs">HMON</text>
<text x="327" y="558.3000000000001" text-anchor="middle" fill="#66cdaa" fill-opacity="0.5" style="font-family:'Liberation Sans',sans-serif;font-size:16.2px" textLength="48.7" lengthAdjust="spacingAndGlyphs">HWRF</text>
<text x="297" y="593.5" text-anchor="middle" fill="#3a9a1a" fill-opacity="0.5" style="font-family:'Liberation Sans',sans-serif;font-size:16.2px" textLength="70.5" lengthAdjust="spacingAndGlyphs">COAMPS</text>
<text x="305.3" y="615.3000000000001" text-anchor="middle" fill="#ff1493" fill-opacity="0.5" style="font-family:'Liberation Sans',sans-serif;font-size:16.2px" textLength="29.7" lengthAdjust="spacingAndGlyphs">ECM</text>
<text x="72.00" y="32.1" fill="#000" stroke="#000" stroke-width="0.35" style="font-family:'Liberation Sans',sans-serif;font-size:23.4px;font-weight:bold" textLength="101.90" lengthAdjust="spacingAndGlyphs">Tropical</text>
<text x="181.53" y="32.1" fill="#000" stroke="#000" stroke-width="0.35" style="font-family:'Liberation Sans',sans-serif;font-size:23.4px;font-weight:bold" textLength="78.86" lengthAdjust="spacingAndGlyphs">Storm</text>
<text x="268.17" y="32.1" fill="#000" stroke="#000" stroke-width="0.35" style="font-family:'Liberation Sans',sans-serif;font-size:23.4px;font-weight:bold" textLength="113.15" lengthAdjust="spacingAndGlyphs">Gabrielle</text>
<text x="391.60" y="32.1" fill="#000" stroke="#000" stroke-width="0.35" style="font-family:'Liberation Sans',sans-serif;font-size:23.4px;font-weight:bold" textLength="6.67" lengthAdjust="spacingAndGlyphs">•</text>
<text x="408.45" y="32.1" fill="#000" stroke="#000" stroke-width="0.35" style="font-family:'Liberation Sans',sans-serif;font-size:23.4px;font-weight:bold" textLength="171.09" lengthAdjust="spacingAndGlyphs">Deterministic</text>
<text x="588.95" y="32.1" fill="#000" stroke="#000" stroke-width="0.35" style="font-family:'Liberation Sans',sans-serif;font-size:23.4px;font-weight:bold" textLength="77.56" lengthAdjust="spacingAndGlyphs">Model</text>
<text x="673.10" y="32.1" fill="#000" stroke="#000" stroke-width="0.35" style="font-family:'Liberation Sans',sans-serif;font-size:23.4px;font-weight:bold" textLength="83.86" lengthAdjust="spacingAndGlyphs">Tracks</text>
<text x="71.08" y="59.4" fill="#444" stroke="#444" stroke-width="0.25" style="font-family:'Liberation Sans',sans-serif;font-size:22px" textLength="40.64" lengthAdjust="spacingAndGlyphs">Raw</text>
<text x="118.55" y="59.4" fill="#444" stroke="#444" stroke-width="0.25" style="font-family:'Liberation Sans',sans-serif;font-size:22px" textLength="68.81" lengthAdjust="spacingAndGlyphs">model</text>
<text x="198.40" y="59.4" fill="#444" stroke="#444" stroke-width="0.25" style="font-family:'Liberation Sans',sans-serif;font-size:22px" textLength="64.46" lengthAdjust="spacingAndGlyphs">tracks</text>
<text x="270.17" y="59.4" fill="#444" stroke="#444" stroke-width="0.25" style="font-family:'Liberation Sans',sans-serif;font-size:22px" textLength="48.22" lengthAdjust="spacingAndGlyphs">(late</text>
<text x="323.58" y="59.4" fill="#444" stroke="#444" stroke-width="0.25" style="font-family:'Liberation Sans',sans-serif;font-size:22px" textLength="88.74" lengthAdjust="spacingAndGlyphs">arriving)</text>
<text x="864.19" y="59.4" fill="#000" style="font-family:'Liberation Sans',sans-serif;font-size:20.8px" textLength="102.25" lengthAdjust="spacingAndGlyphs">Initialized:</text>
<text x="972.60" y="59.4" fill="#000" style="font-family:'Liberation Sans',sans-serif;font-size:20.8px" textLength="53.41" lengthAdjust="spacingAndGlyphs">0600</text>
<text x="1033.41" y="59.4" fill="#000" style="font-family:'Liberation Sans',sans-serif;font-size:20.8px" textLength="42.33" lengthAdjust="spacingAndGlyphs">UTC</text>
<text x="1082.80" y="59.4" fill="#000" style="font-family:'Liberation Sans',sans-serif;font-size:20.8px" textLength="20.83" lengthAdjust="spacingAndGlyphs">18</text>
<text x="1110.21" y="59.4" fill="#000" style="font-family:'Liberation Sans',sans-serif;font-size:20.8px" textLength="111.00" lengthAdjust="spacingAndGlyphs">September</text>
<text x="1229.06" y="59.4" fill="#000" style="font-family:'Liberation Sans',sans-serif;font-size:20.8px" textLength="52.85" lengthAdjust="spacingAndGlyphs">2025</text>
<path d="M549.9,833.4 L527.0,822.4 L512.4,810.6 L497.6,798.8 L482.9,788.5 L453.8,777.9 L431.8,767.6 L402.4,752.9 L387.6,744.1 L372.9,732.4 L356.8,719.1 L343.5,705.9 L333.2,692.6 L328.1,682.4 L323.7,664.7 L320.7,650.0 L314.3,619.6 L323.8,607.8 L360.6,560.0 L377.9,535.3" fill="none" stroke="#000000" stroke-width="4.2" stroke-linejoin="round" stroke-linecap="butt" clip-path="url(#fr)"/>
<path d="M549.9,833.4 L534.4,825.3 L519.7,816.5 L505.0,809.1 L490.3,805.4 L471.2,799.6 L449.1,791.5 L430.0,782.6 L378.8,752.9 L352.4,741.9 L333.2,730.1 L328.8,718.4 L334.7,706.6 L327.4,692.6 L320.0,679.4 L311.2,666.2 L301.6,655.9 L295.9,636.5 L290.7,621.8 L290.7,610.0 L294.4,598.2 L301.8,586.5 L313.5,573.2 L328.2,560.0 L345.6,545.6 L397.0,519.1 L437.4,497.1 L507.0,475.1 L581.8,455.1 L667.4,440.9 L747.6,422.7 L820.3,408.6 L888.5,391.7 L956.7,358.3 L1014.2,310.2 L1045.7,250.6 L1055.9,184.5 L1031.8,108.3 L993.6,71.4 L962.0,41.0" fill="none" stroke="#0000ff" stroke-width="4.2" stroke-linejoin="round" stroke-linecap="butt" clip-path="url(#fr)"/>
<path d="M549.9,833.4 L527.0,828.2 L521.2,826.8 L509.4,813.5 L497.6,801.8 L482.9,790.0 L462.4,780.4 L450.6,776.0 L438.8,771.6 L424.1,763.5 L409.4,756.2 L394.7,748.8 L387.6,741.2 L372.9,729.4 L358.2,714.7 L345.0,701.5 L342.1,694.1 L336.2,683.8 L328.8,672.1 L320.0,661.8 L315.0,651.2 L309.1,640.9 L305.4,629.1 L303.2,616.6" fill="none" stroke="#ff1493" stroke-width="4.2" stroke-linejoin="round" stroke-linecap="butt" clip-path="url(#fr)"/>
<path d="M549.9,833.4 L546.2,827.5 L534.4,820.1 L525.6,814.3 L497.6,801.8 L491.8,799.6 L449.1,787.8 L441.8,784.1 L431.5,780.4 L416.8,775.3 L402.4,769.1 L361.2,760.3 L345.0,755.1 L352.4,736.8 L340.6,714.7 L314.1,692.6 L290.6,664.7 L283.0,645.0 L282.0,623.2 L284.3,605.0 L289.3,592.4 L297.0,576.0" fill="none" stroke="#ff8c00" stroke-width="4.2" stroke-linejoin="round" stroke-linecap="butt" clip-path="url(#fr)"/>
<path d="M549.9,833.4 L541.8,826.8 L530.0,819.4 L521.2,810.6 L510.9,801.8 L497.6,795.9 L450.6,778.5 L431.5,771.6 L409.4,764.3 L394.7,759.9 L380.3,757.4 L361.2,750.0 L349.4,741.9 L343.5,733.8 L339.1,723.5 L328.8,713.2 L318.5,705.9 L306.8,698.5 L287.6,682.4 L277.4,667.6 L269.4,660.0 L263.5,646.8 L258.4,633.5 L260.6,615.9 L267.2,604.1 L276.8,592.4 L290.0,580.6 L304.7,568.8 L318.0,559.0" fill="none" stroke="#66cdaa" stroke-width="4.2" stroke-linejoin="round" stroke-linecap="butt" clip-path="url(#fr)"/>
<path d="M549.9,833.4 L535.0,826.0 L520.0,819.0 L505.0,811.0 L490.3,804.7 L475.6,801.0 L462.4,798.8 L447.6,797.4 L432.9,795.1 L416.8,785.6 L397.6,775.3 L380.3,767.6 L358.2,755.9 L340.6,745.6 L325.9,735.3 L312.6,723.5 L301.6,711.8 L297.9,701.5 L294.3,691.2 L295.0,680.9 L289.1,667.6 L285.6,657.1 L278.2,643.8 L272.4,632.1 L274.6,618.8 L276.0,604.1 L279.0,589.4 L284.1,580.6 L294.4,568.8 L316.2,548.5 L338.2,527.9 L355.9,514.7 L388.2,496.3" fill="none" stroke="#bf5fff" stroke-width="4.2" stroke-linejoin="round" stroke-linecap="butt" clip-path="url(#fr)"/>
<path d="M549.9,833.4 L535.9,825.3 L527.0,817.9 L515.3,807.6 L505.0,800.3 L493.2,792.9 L482.9,789.3 L468.2,784.9 L450.6,781.9 L438.8,779.0 L424.1,774.6 L409.4,769.4 L394.7,765.0 L380.0,762.1 L365.6,754.4 L346.5,744.1 L331.8,733.8 L317.1,722.1 L306.8,708.8 L299.4,698.5 L296.5,688.2 L297.9,679.4 L293.5,664.7 L288.5,655.6 L282.6,642.4 L277.5,627.6 L277.5,617.4 L282.6,605.6 L290.0,593.8 L304.7,579.1 L314.7,567.6 L332.4,551.5 L350.0,535.3 L367.6,520.6 L389.7,507.4 L412.5,493.4" fill="none" stroke="#8c10c8" stroke-width="4.2" stroke-linejoin="round" stroke-linecap="butt" clip-path="url(#fr)"/>
<path d="M547.6,836.3 L535.9,831.2 L524.1,826.8 L515.3,821.6 L503.5,815.7 L496.2,808.4 L488.8,802.5 L475.6,799.6 L462.4,796.6 L446.2,794.7 L438.8,791.5 L424.1,778.2 L409.4,767.2 L394.7,759.1 L380.3,752.9 L365.6,741.2 L352.4,729.4 L340.6,719.1 L328.8,708.8 L320.0,701.5 L312.6,694.1 L306.0,682.4 L306.8,667.6 L295.0,658.8 L292.1,650.0 L290.0,639.4 L287.1,626.2 L287.1,612.9 L290.0,602.6 L293.7,594.6" fill="none" stroke="#3a9a1a" stroke-width="4.2" stroke-linejoin="round" stroke-linecap="butt" clip-path="url(#fr)"/>
<path d="M544.7,835.6 L527.0,823.8 L512.4,815.0 L497.6,806.2 L485.9,800.3 L475.6,798.1 L444.7,780.4 L431.5,773.1 L416.8,765.0 L402.1,756.2 L397.9,751.5 L392.1,741.2 L384.7,726.5 L372.9,708.8 L364.1,694.1 L353.2,677.6 L344.4,662.9 L338.5,654.1 L331.2,639.4 L324.6,623.2 L320.9,608.5 L321.6,596.8 L325.3,582.1 L332.4,567.6 L341.2,558.8 L361.8,538.2 L382.4,523.5 L397.0,513.2 L411.8,502.9 L433.8,488.2 L463.2,473.5 L488.2,461.0 L533.7,444.9 L573.8,431.6 L613.9,418.2 L654.0,412.0 L694.1,406.1 L747.6,400.8 L800.0,392.8 L828.3,382.4 L899.2,362.3 L964.7,330.2 L1014.2,306.1 L1059.6,263.4 L1067.1,257.3 L1079.1,222.5 L1090.4,183.7 L1093.0,137.0 L1094.3,95.6" fill="none" stroke="#a51c1c" stroke-width="4.2" stroke-linejoin="round" stroke-linecap="butt" clip-path="url(#fr)" stroke-dasharray="16 7" stroke-dashoffset="3.95"/>
<path d="M547.6,831.2 L534.4,828.2 L519.7,819.4 L506.5,807.6 L494.7,798.8 L482.9,792.9 L449.1,779.0 L438.8,773.8 L424.1,764.3 L409.7,755.9 L399.4,747.1 L392.1,739.7 L381.8,729.4 L370.0,711.8 L358.2,694.1 L349.4,683.8 L345.9,674.7 L337.1,660.0 L331.2,645.3 L325.3,629.1 L322.4,615.9 L323.1,601.2 L331.2,585.0 L338.2,570.6 L352.9,552.9 L375.0,536.8 L397.0,520.6 L411.8,511.8 L433.8,498.5 L466.8,481.0 L507.0,469.0 L533.7,462.3 L573.8,450.3 L613.9,440.9 L654.0,432.9 L694.1,422.2 L747.6,403.5 L804.3,386.4 L852.4,357.0 L916.6,311.5 L951.3,274.1 L966.8,257.3 L981.6,241.2 L985.6,207.8 L996.5,200.1 L999.3,194.3 L1015.5,186.6 L1031.3,175.2 L1019.8,156.1" fill="none" stroke="#ee90ee" stroke-width="4.2" stroke-linejoin="round" stroke-linecap="butt" clip-path="url(#fr)" stroke-dasharray="16 7" stroke-dashoffset="4.91"/>
<line x1="141.85" y1="71.5" x2="141.85" y2="906.5" stroke="#000" stroke-opacity="0.5" stroke-width="1.74" stroke-dasharray="1.736 2.865" stroke-dashoffset="-0.06" fill="none"/>
<line x1="344.10" y1="71.5" x2="344.10" y2="906.5" stroke="#000" stroke-opacity="0.5" stroke-width="1.74" stroke-dasharray="1.736 2.865" stroke-dashoffset="-0.06" fill="none"/>
<line x1="546.00" y1="71.5" x2="546.00" y2="906.5" stroke="#000" stroke-opacity="0.5" stroke-width="1.74" stroke-dasharray="1.736 2.865" stroke-dashoffset="-0.06" fill="none"/>
<line x1="747.20" y1="71.5" x2="747.20" y2="906.5" stroke="#000" stroke-opacity="0.5" stroke-width="1.74" stroke-dasharray="1.736 2.865" stroke-dashoffset="-0.06" fill="none"/>
<line x1="949.00" y1="71.5" x2="949.00" y2="906.5" stroke="#000" stroke-opacity="0.5" stroke-width="1.74" stroke-dasharray="1.736 2.865" stroke-dashoffset="-0.06" fill="none"/>
<line x1="1151.00" y1="71.5" x2="1151.00" y2="906.5" stroke="#000" stroke-opacity="0.5" stroke-width="1.74" stroke-dasharray="1.736 2.865" stroke-dashoffset="-0.06" fill="none"/>
<line x1="71.5" y1="825.90" x2="1282.5" y2="825.90" stroke="#000" stroke-opacity="0.5" stroke-width="1.74" stroke-dasharray="1.736 2.865" stroke-dashoffset="0.74" fill="none"/>
<line x1="71.5" y1="624.20" x2="1282.5" y2="624.20" stroke="#000" stroke-opacity="0.5" stroke-width="1.74" stroke-dasharray="1.736 2.865" stroke-dashoffset="0.74" fill="none"/>
<line x1="71.5" y1="423.10" x2="1282.5" y2="423.10" stroke="#000" stroke-opacity="0.5" stroke-width="1.74" stroke-dasharray="1.736 2.865" stroke-dashoffset="0.74" fill="none"/>
<line x1="71.5" y1="221.00" x2="1282.5" y2="221.00" stroke="#000" stroke-opacity="0.5" stroke-width="1.74" stroke-dasharray="1.736 2.865" stroke-dashoffset="0.74" fill="none"/>
<text x="1031.8" y="180.2" text-anchor="middle" fill="#383838" stroke="#ffffff" stroke-opacity="0.9" stroke-width="2.1" stroke-linejoin="round" paint-order="stroke" style="font-family:'Liberation Sans',sans-serif;font-size:15.8px">216</text>
<text x="863.8" y="353.90000000000003" text-anchor="middle" fill="#383838" stroke="#ffffff" stroke-opacity="0.9" stroke-width="2.1" stroke-linejoin="round" paint-order="stroke" style="font-family:'Liberation Sans',sans-serif;font-size:15.8px">168</text>
<text x="952.9" y="339.20000000000005" text-anchor="middle" fill="#383838" stroke="#ffffff" stroke-opacity="0.9" stroke-width="2.1" stroke-linejoin="round" paint-order="stroke" style="font-family:'Liberation Sans',sans-serif;font-size:15.8px">168</text>
<text x="890.2" y="394.0" text-anchor="middle" fill="#383838" stroke="#ffffff" stroke-opacity="0.9" stroke-width="2.1" stroke-linejoin="round" paint-order="stroke" style="font-family:'Liberation Sans',sans-serif;font-size:15.8px">168</text>
<text x="441.2" y="486.5" text-anchor="middle" fill="#383838" stroke="#ffffff" stroke-opacity="0.9" stroke-width="2.1" stroke-linejoin="round" paint-order="stroke" style="font-family:'Liberation Sans',sans-serif;font-size:15.8px">120</text>
<text x="343.4" y="526.9" text-anchor="middle" fill="#383838" stroke="#ffffff" stroke-opacity="0.9" stroke-width="2.1" stroke-linejoin="round" paint-order="stroke" style="font-family:'Liberation Sans',sans-serif;font-size:15.8px">120</text>
<text x="360.3" y="531.3000000000001" text-anchor="middle" fill="#383838" stroke="#ffffff" stroke-opacity="0.9" stroke-width="2.1" stroke-linejoin="round" paint-order="stroke" style="font-family:'Liberation Sans',sans-serif;font-size:15.8px">120</text>
<text x="388.2" y="526.9" text-anchor="middle" fill="#383838" stroke="#ffffff" stroke-opacity="0.9" stroke-width="2.1" stroke-linejoin="round" paint-order="stroke" style="font-family:'Liberation Sans',sans-serif;font-size:15.8px">120</text>
<text x="379.4" y="539.4" text-anchor="middle" fill="#383838" stroke="#ffffff" stroke-opacity="0.9" stroke-width="2.1" stroke-linejoin="round" paint-order="stroke" style="font-family:'Liberation Sans',sans-serif;font-size:15.8px">120</text>
<text x="337.6" y="553.2" text-anchor="middle" fill="#383838" stroke="#ffffff" stroke-opacity="0.9" stroke-width="2.1" stroke-linejoin="round" paint-order="stroke" style="font-family:'Liberation Sans',sans-serif;font-size:15.8px">120</text>
<text x="293.6" y="587.4" text-anchor="middle" fill="#383838" stroke="#ffffff" stroke-opacity="0.9" stroke-width="2.1" stroke-linejoin="round" paint-order="stroke" style="font-family:'Liberation Sans',sans-serif;font-size:15.8px">120</text>
<text x="297.6" y="579.3000000000001" text-anchor="middle" fill="#383838" stroke="#ffffff" stroke-opacity="0.9" stroke-width="2.1" stroke-linejoin="round" paint-order="stroke" style="font-family:'Liberation Sans',sans-serif;font-size:15.8px">120</text>
<text x="287.4" y="611.9" text-anchor="middle" fill="#383838" stroke="#ffffff" stroke-opacity="0.9" stroke-width="2.1" stroke-linejoin="round" paint-order="stroke" style="font-family:'Liberation Sans',sans-serif;font-size:15.8px">120</text>
<text x="326.6" y="672.5" text-anchor="middle" fill="#383838" stroke="#ffffff" stroke-opacity="0.9" stroke-width="2.1" stroke-linejoin="round" paint-order="stroke" style="font-family:'Liberation Sans',sans-serif;font-size:15.8px">72</text>
<text x="347.9" y="678.4" text-anchor="middle" fill="#383838" stroke="#ffffff" stroke-opacity="0.9" stroke-width="2.1" stroke-linejoin="round" paint-order="stroke" style="font-family:'Liberation Sans',sans-serif;font-size:15.8px">72</text>
<text x="351.6" y="688.7" text-anchor="middle" fill="#383838" stroke="#ffffff" stroke-opacity="0.9" stroke-width="2.1" stroke-linejoin="round" paint-order="stroke" style="font-family:'Liberation Sans',sans-serif;font-size:15.8px">72</text>
<text x="330.3" y="692.4" text-anchor="middle" fill="#383838" stroke="#ffffff" stroke-opacity="0.9" stroke-width="2.1" stroke-linejoin="round" paint-order="stroke" style="font-family:'Liberation Sans',sans-serif;font-size:15.8px">72</text>
<text x="295" y="682.1" text-anchor="middle" fill="#383838" stroke="#ffffff" stroke-opacity="0.9" stroke-width="2.1" stroke-linejoin="round" paint-order="stroke" style="font-family:'Liberation Sans',sans-serif;font-size:15.8px">72</text>
<text x="290.6" y="690.9" text-anchor="middle" fill="#383838" stroke="#ffffff" stroke-opacity="0.9" stroke-width="2.1" stroke-linejoin="round" paint-order="stroke" style="font-family:'Liberation Sans',sans-serif;font-size:15.8px">72</text>
<text x="302.4" y="698.2" text-anchor="middle" fill="#383838" stroke="#ffffff" stroke-opacity="0.9" stroke-width="2.1" stroke-linejoin="round" paint-order="stroke" style="font-family:'Liberation Sans',sans-serif;font-size:15.8px">72</text>
<text x="322.9" y="710.0" text-anchor="middle" fill="#383838" stroke="#ffffff" stroke-opacity="0.9" stroke-width="2.1" stroke-linejoin="round" paint-order="stroke" style="font-family:'Liberation Sans',sans-serif;font-size:15.8px">72</text>
<text x="334.7" y="710.7" text-anchor="middle" fill="#383838" stroke="#ffffff" stroke-opacity="0.9" stroke-width="2.1" stroke-linejoin="round" paint-order="stroke" style="font-family:'Liberation Sans',sans-serif;font-size:15.8px">72</text>
<text x="463" y="784.6" text-anchor="middle" fill="#383838" stroke="#ffffff" stroke-opacity="0.9" stroke-width="2.1" stroke-linejoin="round" paint-order="stroke" style="font-family:'Liberation Sans',sans-serif;font-size:15.8px">24</text>
<text x="468.5" y="790.6" text-anchor="middle" fill="#383838" stroke="#ffffff" stroke-opacity="0.9" stroke-width="2.1" stroke-linejoin="round" paint-order="stroke" style="font-family:'Liberation Sans',sans-serif;font-size:15.8px">24</text>
<text x="472" y="793.1" text-anchor="middle" fill="#383838" stroke="#ffffff" stroke-opacity="0.9" stroke-width="2.1" stroke-linejoin="round" paint-order="stroke" style="font-family:'Liberation Sans',sans-serif;font-size:15.8px">24</text>
<text x="460" y="792.6" text-anchor="middle" fill="#383838" stroke="#ffffff" stroke-opacity="0.9" stroke-width="2.1" stroke-linejoin="round" paint-order="stroke" style="font-family:'Liberation Sans',sans-serif;font-size:15.8px">24</text>
<text x="464" y="795.6" text-anchor="middle" fill="#383838" stroke="#ffffff" stroke-opacity="0.9" stroke-width="2.1" stroke-linejoin="round" paint-order="stroke" style="font-family:'Liberation Sans',sans-serif;font-size:15.8px">24</text>
<text x="459" y="801.6" text-anchor="middle" fill="#383838" stroke="#ffffff" stroke-opacity="0.9" stroke-width="2.1" stroke-linejoin="round" paint-order="stroke" style="font-family:'Liberation Sans',sans-serif;font-size:15.8px">24</text>
<text x="462.5" y="802.1" text-anchor="middle" fill="#383838" stroke="#ffffff" stroke-opacity="0.9" stroke-width="2.1" stroke-linejoin="round" paint-order="stroke" style="font-family:'Liberation Sans',sans-serif;font-size:15.8px">24</text>
<text x="468" y="802.1" text-anchor="middle" fill="#383838" stroke="#ffffff" stroke-opacity="0.9" stroke-width="2.1" stroke-linejoin="round" paint-order="stroke" style="font-family:'Liberation Sans',sans-serif;font-size:15.8px">24</text>
<text x="466" y="798.6" text-anchor="middle" fill="#383838" stroke="#ffffff" stroke-opacity="0.9" stroke-width="2.1" stroke-linejoin="round" paint-order="stroke" style="font-family:'Liberation Sans',sans-serif;font-size:15.8px">24</text>
<text x="470" y="796.6" text-anchor="middle" fill="#383838" stroke="#ffffff" stroke-opacity="0.9" stroke-width="2.1" stroke-linejoin="round" paint-order="stroke" style="font-family:'Liberation Sans',sans-serif;font-size:15.8px">24</text>
<text x="1270.2" y="864.4" fill="#2e2e2e" stroke="#ffffff" stroke-opacity="0.7" stroke-width="5.6" stroke-linejoin="round" paint-order="stroke" text-anchor="end" style="font-family:'Liberation Sans',sans-serif;font-size:21.5px;font-weight:bold" textLength="214.6" lengthAdjust="spacingAndGlyphs">Plot by Tomer Burg</text>
<text x="1267.8" y="892.4" fill="#2e2e2e" stroke="#ffffff" stroke-opacity="0.7" stroke-width="5.6" stroke-linejoin="round" paint-order="stroke" text-anchor="end" style="font-family:'Liberation Sans',sans-serif;font-size:21.5px;font-weight:bold" textLength="316.6" lengthAdjust="spacingAndGlyphs">www.polarwx.com/tropical/</text>
<rect x="71.5" y="71.5" width="1211.0" height="835.0" fill="none" stroke="#000" stroke-width="1.4"/>
<text x="115.5" y="929.8" fill="#000" style="font-family:'Liberation Sans',sans-serif;font-size:21px" textLength="51.4" lengthAdjust="spacingAndGlyphs">70°W</text>
<text x="317.8" y="929.8" fill="#000" style="font-family:'Liberation Sans',sans-serif;font-size:21px" textLength="51.4" lengthAdjust="spacingAndGlyphs">60°W</text>
<text x="519.7" y="929.8" fill="#000" style="font-family:'Liberation Sans',sans-serif;font-size:21px" textLength="51.4" lengthAdjust="spacingAndGlyphs">50°W</text>
<text x="720.9" y="929.8" fill="#000" style="font-family:'Liberation Sans',sans-serif;font-size:21px" textLength="51.4" lengthAdjust="spacingAndGlyphs">40°W</text>
<text x="922.7" y="929.8" fill="#000" style="font-family:'Liberation Sans',sans-serif;font-size:21px" textLength="51.4" lengthAdjust="spacingAndGlyphs">30°W</text>
<text x="1124.7" y="929.8" fill="#000" style="font-family:'Liberation Sans',sans-serif;font-size:21px" textLength="51.4" lengthAdjust="spacingAndGlyphs">20°W</text>
<text x="13.9" y="831.6" fill="#000" style="font-family:'Liberation Sans',sans-serif;font-size:21px" textLength="48.8" lengthAdjust="spacingAndGlyphs">20°N</text>
<text x="13.9" y="629.9" fill="#000" style="font-family:'Liberation Sans',sans-serif;font-size:21px" textLength="48.8" lengthAdjust="spacingAndGlyphs">30°N</text>
<text x="13.9" y="428.8" fill="#000" style="font-family:'Liberation Sans',sans-serif;font-size:21px" textLength="48.8" lengthAdjust="spacingAndGlyphs">40°N</text>
<text x="13.9" y="226.7" fill="#000" style="font-family:'Liberation Sans',sans-serif;font-size:21px" textLength="48.8" lengthAdjust="spacingAndGlyphs">50°N</text>
<rect x="1294" y="73.8" width="190.1" height="328.4" rx="3.6" ry="3.6" fill="#fff" stroke="#d0d0d0" stroke-width="1.4"/>
<line x1="1301.1" y1="90.8" x2="1350.3" y2="90.8" stroke="#000000" stroke-width="4.3"/>
<text x="1365.6" y="98.4" fill="#000" style="font-family:'Liberation Sans',sans-serif;font-size:21px" textLength="51.2" lengthAdjust="spacingAndGlyphs">NHC</text>
<line x1="1301.1" y1="123.0" x2="1350.3" y2="123.0" stroke="#0000ff" stroke-width="4.3"/>
<text x="1365.6" y="130.6" fill="#000" style="font-family:'Liberation Sans',sans-serif;font-size:21px" textLength="44.9" lengthAdjust="spacingAndGlyphs">GFS</text>
<line x1="1301.1" y1="155.2" x2="1350.3" y2="155.2" stroke="#ff1493" stroke-width="4.3"/>
<text x="1365.6" y="162.8" fill="#000" style="font-family:'Liberation Sans',sans-serif;font-size:21px" textLength="48.2" lengthAdjust="spacingAndGlyphs">ECM</text>
<line x1="1301.1" y1="187.4" x2="1350.3" y2="187.4" stroke="#ff8c00" stroke-width="4.3"/>
<text x="1365.6" y="195.0" fill="#000" style="font-family:'Liberation Sans',sans-serif;font-size:21px" textLength="70.39999999999999" lengthAdjust="spacingAndGlyphs">HMON</text>
<line x1="1301.1" y1="219.6" x2="1350.3" y2="219.6" stroke="#66cdaa" stroke-width="4.3"/>
<text x="1365.6" y="227.2" fill="#000" style="font-family:'Liberation Sans',sans-serif;font-size:21px" textLength="64.89999999999999" lengthAdjust="spacingAndGlyphs">HWRF</text>
<line x1="1301.1" y1="251.8" x2="1350.3" y2="251.8" stroke="#bf5fff" stroke-width="4.3"/>
<text x="1365.6" y="259.4" fill="#000" style="font-family:'Liberation Sans',sans-serif;font-size:21px" textLength="83.39999999999999" lengthAdjust="spacingAndGlyphs">HAFS-A</text>
<line x1="1301.1" y1="284.0" x2="1350.3" y2="284.0" stroke="#8c10c8" stroke-width="4.3"/>
<text x="1365.6" y="291.6" fill="#000" style="font-family:'Liberation Sans',sans-serif;font-size:21px" textLength="81.5" lengthAdjust="spacingAndGlyphs">HAFS-B</text>
<line x1="1301.1" y1="316.2" x2="1350.3" y2="316.2" stroke="#3a9a1a" stroke-width="4.3"/>
<text x="1365.6" y="323.8" fill="#000" style="font-family:'Liberation Sans',sans-serif;font-size:21px" textLength="96.3" lengthAdjust="spacingAndGlyphs">COAMPS</text>
<line x1="1302.9" y1="348.4" x2="1342.1" y2="348.4" stroke="#a51c1c" stroke-width="4.3" stroke-dasharray="15.9 7.4"/>
<text x="1365.6" y="356.0" fill="#000" style="font-family:'Liberation Sans',sans-serif;font-size:21px" textLength="108.6" lengthAdjust="spacingAndGlyphs">GraphCast</text>
<line x1="1302.9" y1="380.6" x2="1342.1" y2="380.6" stroke="#ee90ee" stroke-width="4.3" stroke-dasharray="15.9 7.4"/>
<text x="1365.6" y="388.2" fill="#000" style="font-family:'Liberation Sans',sans-serif;font-size:21px" textLength="103.69999999999999" lengthAdjust="spacingAndGlyphs">DeepMind</text>
</svg>
</body></html>
